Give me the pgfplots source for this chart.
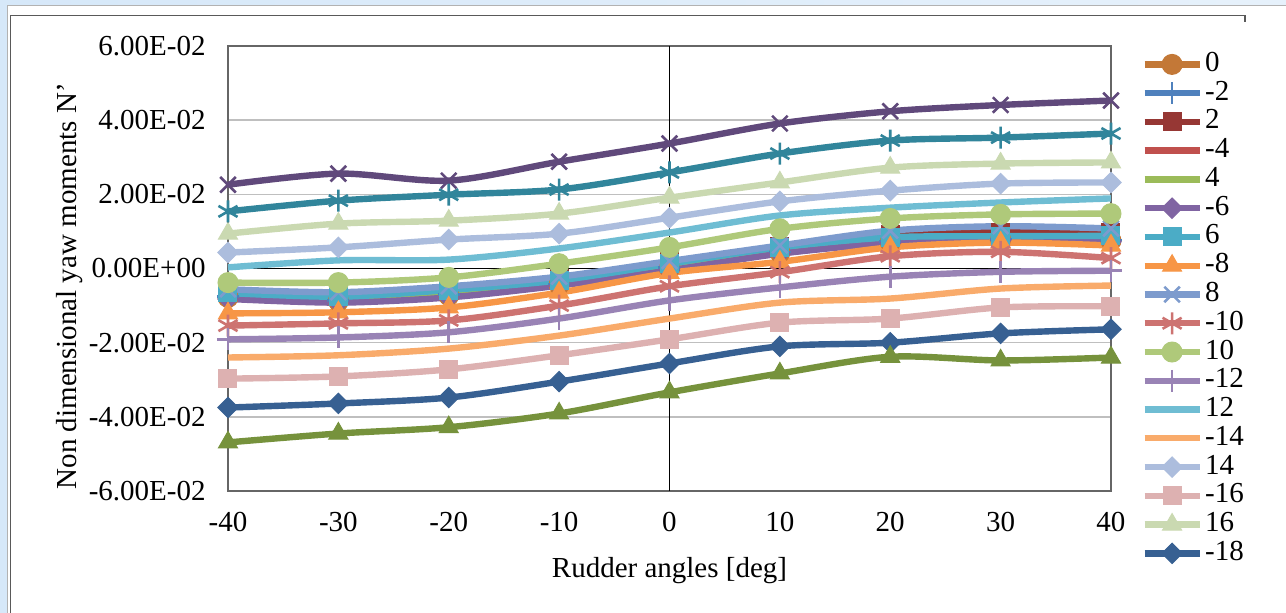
\documentclass[border=0pt]{standalone}
\usepackage{fontspec}
\setmainfont{Liberation Serif}
\usepackage{pgfplots}
\pgfplotsset{compat=1.18}

% series colours
\definecolor{c0}{RGB}{195,120,55}
\definecolor{cm2}{RGB}{79,129,189}
\definecolor{c2}{RGB}{150,55,52}
\definecolor{cm4}{RGB}{192,80,77}
\definecolor{c4}{RGB}{155,187,89}
\definecolor{cm6}{RGB}{128,100,162}
\definecolor{c6}{RGB}{75,172,198}
\definecolor{cm8}{RGB}{247,150,70}
\definecolor{c8}{RGB}{125,155,205}
\definecolor{cm10}{RGB}{205,115,113}
\definecolor{c10}{RGB}{175,201,122}
\definecolor{cm12}{RGB}{153,131,181}
\definecolor{c12}{RGB}{111,189,211}
\definecolor{cm14}{RGB}{249,171,107}
\definecolor{c14}{RGB}{172,189,221}
\definecolor{cm16}{RGB}{221,177,177}
\definecolor{c16}{RGB}{202,217,177}
\definecolor{cm18}{RGB}{55,96,146}
\definecolor{c18}{RGB}{49,133,155}
\definecolor{cm20}{RGB}{118,146,60}
\definecolor{c20}{RGB}{96,73,123}
\definecolor{bgblue}{RGB}{214,232,249}

\pgfplotsset{
  filled/.style={mark options={solid,fill=#1,draw=#1,line width=0.5pt}},
  diam/.style={mark=square*,mark size=3.6pt,
    mark options={solid,fill=#1,draw=#1,line width=0.5pt,rotate=45}},
  thin/.style={mark options={solid,draw=#1,line width=1.3pt}},
  ser/.style={color=#1,line width=3.2pt,smooth},
}

\begin{document}
\begin{tikzpicture}
\begin{scope}[x=0.5pt,y=-0.5pt]
  \useasboundingbox (0,0) rectangle (1286,613);
  \shade[left color=bgblue,right color=bgblue!60] (0,0) rectangle (1286,613);
  \fill[white] (8,6) rectangle (1286,613);
  \draw[black!30,line width=0.6pt] (7.5,613) -- (7.5,5.5) -- (1286,5.5);
  \draw[black!65,line width=0.8pt] (10.5,613) -- (10.5,15.5) -- (1245,15.5) -- (1245,22);
\end{scope}

\begin{axis}[
  at={(114pt,-245.5pt)}, anchor=south west,
  scale only axis, width=441.5pt, height=222.5pt,
  xmin=-40, xmax=40, ymin=-0.06, ymax=0.06,
  xtick={-40,-30,-20,-10,0,10,20,30,40},
  xticklabels={-40,-30,-20,-10,0,10,20,30,40},
  ytick={-0.06,-0.04,-0.02,0,0.02,0.04,0.06},
  yticklabels={-6.00E-02,-4.00E-02,-2.00E-02,0.00E+00,2.00E-02,4.00E-02,6.00E-02},
  scaled y ticks=false,
  major tick length=0pt,
  ymajorgrids,
  major grid style={draw=black!25,line width=0.75pt},
  axis line style={draw=black!60,line width=0.75pt},
  extra x ticks={0}, extra x tick labels={},
  extra y ticks={0}, extra y tick labels={},
  extra tick style={grid=major,major grid style={draw=black,line width=0.6pt}},
  tick label style={font=\fontsize{14.5}{17}\selectfont},
  yticklabel style={xshift=-7.7pt},
  xticklabel style={yshift=-7pt},
  xlabel={Rudder angles [deg]},
  ylabel={Non dimensional yaw moments N’},
  label style={font=\fontsize{14.5}{17}\selectfont},
  xlabel style={at={(axis description cs:0.5,-0.178)},anchor=center},
  ylabel style={at={(axis description cs:-0.179,0.46)},anchor=center},
  legend style={at={(rel axis cs:1,1)},anchor=north west,xshift=15pt,yshift=-2.5pt,
    draw=none,fill=none,inner sep=0pt,row sep=1.38pt,column sep=1.2pt,
    font=\fontsize{14.5}{17}\selectfont,
    nodes={inner sep=0pt,text height=10pt,text depth=3pt}},
  legend cell align=left,
  legend image code/.code={\draw[mark repeat=2,mark phase=2,#1]
    plot coordinates {(0pt,0pt) (13.75pt,0pt) (27.5pt,0pt)};},
]
% moment coefficient for each drift angle, rudder -40 ... 40 deg
\addplot[ser=c0,mark=*,mark size=5pt,filled=c0] coordinates {
 (-40,-0.0078) (-30,-0.0088) (-20,-0.0073) (-10,-0.0044) (0,0.0000) (10,0.0043) (20,0.0071) (30,0.0078) (40,0.0075)};
\addlegendentry{0}
\addplot[ser=cm2,mark=+,mark size=5.5pt,thin=cm2] coordinates {
 (-40,-0.0076) (-30,-0.0086) (-20,-0.0070) (-10,-0.0042) (0,0.0002) (10,0.0045) (20,0.0073) (30,0.0080) (40,0.0077)};
\addlegendentry{-2}
\addplot[ser=c2,mark=square*,mark size=4.5pt,filled=c2] coordinates {
 (-40,-0.0060) (-30,-0.0068) (-20,-0.0052) (-10,-0.0026) (0,0.0018) (10,0.0058) (20,0.0092) (30,0.0098) (40,0.0096)};
\addlegendentry{2}
\addplot[ser=cm4] coordinates {
 (-40,-0.0080) (-30,-0.0090) (-20,-0.0075) (-10,-0.0045) (0,-0.0002) (10,0.0041) (20,0.0070) (30,0.0077) (40,0.0074)};
\addlegendentry{-4}
\addplot[ser=c4] coordinates {
 (-40,-0.0072) (-30,-0.0082) (-20,-0.0066) (-10,-0.0040) (0,0.0005) (10,0.0048) (20,0.0076) (30,0.0082) (40,0.0080)};
\addlegendentry{4}
\addplot[ser=cm6,diam=cm6] coordinates {
 (-40,-0.0082) (-30,-0.0092) (-20,-0.0078) (-10,-0.0046) (0,-0.0005) (10,0.0040) (20,0.0068) (30,0.0076) (40,0.0072)};
\addlegendentry{-6}
\addplot[ser=c6,mark=square*,mark size=4.5pt,filled=c6] coordinates {
 (-40,-0.0066) (-30,-0.0076) (-20,-0.0058) (-10,-0.0032) (0,0.0013) (10,0.0057) (20,0.0084) (30,0.0087) (40,0.0088)};
\addlegendentry{6}
\addplot[ser=cm8,mark=triangle*,mark size=5.5pt,filled=cm8] coordinates {
 (-40,-0.0121) (-30,-0.0118) (-20,-0.0105) (-10,-0.0065) (0,-0.0012) (10,0.0018) (20,0.0057) (30,0.0070) (40,0.0062)};
\addlegendentry{-8}
\addplot[ser=c8,mark=x,mark size=5.5pt,thin=c8] coordinates {
 (-40,-0.0056) (-30,-0.0064) (-20,-0.0048) (-10,-0.0022) (0,0.0020) (10,0.0062) (20,0.0102) (30,0.0114) (40,0.0108)};
\addlegendentry{8}
\addplot[ser=cm10,mark=asterisk,mark size=5.5pt,thin=cm10] coordinates {
 (-40,-0.0154) (-30,-0.0148) (-20,-0.0140) (-10,-0.0100) (0,-0.0048) (10,-0.0010) (20,0.0033) (30,0.0045) (40,0.0028)};
\addlegendentry{-10}
\addplot[ser=c10,mark=*,mark size=5pt,filled=c10] coordinates {
 (-40,-0.0038) (-30,-0.0038) (-20,-0.0024) (-10,0.0013) (0,0.0057) (10,0.0107) (20,0.0135) (30,0.0146) (40,0.0148)};
\addlegendentry{10}
\addplot[ser=cm12,mark=+,mark size=5.5pt,thin=cm12] coordinates {
 (-40,-0.0191) (-30,-0.0186) (-20,-0.0172) (-10,-0.0135) (0,-0.0086) (10,-0.0051) (20,-0.0022) (30,-0.0009) (40,-0.0006)};
\addlegendentry{-12}
\addplot[ser=c12] coordinates {
 (-40,0.0003) (-30,0.0022) (-20,0.0024) (-10,0.0054) (0,0.0097) (10,0.0143) (20,0.0164) (30,0.0178) (40,0.0189)};
\addlegendentry{12}
\addplot[ser=cm14] coordinates {
 (-40,-0.0240) (-30,-0.0234) (-20,-0.0216) (-10,-0.0181) (0,-0.0135) (10,-0.0092) (20,-0.0081) (30,-0.0054) (40,-0.0046)};
\addlegendentry{-14}
\addplot[ser=c14,diam=c14] coordinates {
 (-40,0.0043) (-30,0.0057) (-20,0.0078) (-10,0.0094) (0,0.0137) (10,0.0181) (20,0.0210) (30,0.0229) (40,0.0232)};
\addlegendentry{14}
\addplot[ser=cm16,mark=square*,mark size=4.5pt,filled=cm16] coordinates {
 (-40,-0.0297) (-30,-0.0291) (-20,-0.0272) (-10,-0.0234) (0,-0.0191) (10,-0.0146) (20,-0.0135) (30,-0.0105) (40,-0.0102)};
\addlegendentry{-16}
\addplot[ser=c16,mark=triangle*,mark size=5.5pt,filled=c16] coordinates {
 (-40,0.0094) (-30,0.0121) (-20,0.0129) (-10,0.0148) (0,0.0191) (10,0.0232) (20,0.0272) (30,0.0283) (40,0.0286)};
\addlegendentry{16}
\addplot[ser=cm18,diam=cm18] coordinates {
 (-40,-0.0375) (-30,-0.0364) (-20,-0.0348) (-10,-0.0305) (0,-0.0256) (10,-0.0210) (20,-0.0200) (30,-0.0175) (40,-0.0164)};
\addlegendentry{-18}
% remaining drift angles (beyond the legend)
\addplot[ser=c18,mark=asterisk,mark size=5.5pt,thin=c18,forget plot] coordinates {
 (-40,0.0154) (-30,0.0183) (-20,0.0199) (-10,0.0213) (0,0.0259) (10,0.0310) (20,0.0345) (30,0.0353) (40,0.0364)};
\addplot[ser=cm20,mark=triangle*,mark size=5.5pt,filled=cm20,forget plot] coordinates {
 (-40,-0.0469) (-30,-0.0445) (-20,-0.0428) (-10,-0.0391) (0,-0.0334) (10,-0.0283) (20,-0.0238) (30,-0.0248) (40,-0.0240)};
\addplot[ser=c20,mark=x,mark size=5.5pt,thin=c20,forget plot] coordinates {
 (-40,0.0226) (-30,0.0256) (-20,0.0237) (-10,0.0288) (0,0.0337) (10,0.0391) (20,0.0424) (30,0.0441) (40,0.0453)};
\end{axis}
\end{tikzpicture}
\end{document}
